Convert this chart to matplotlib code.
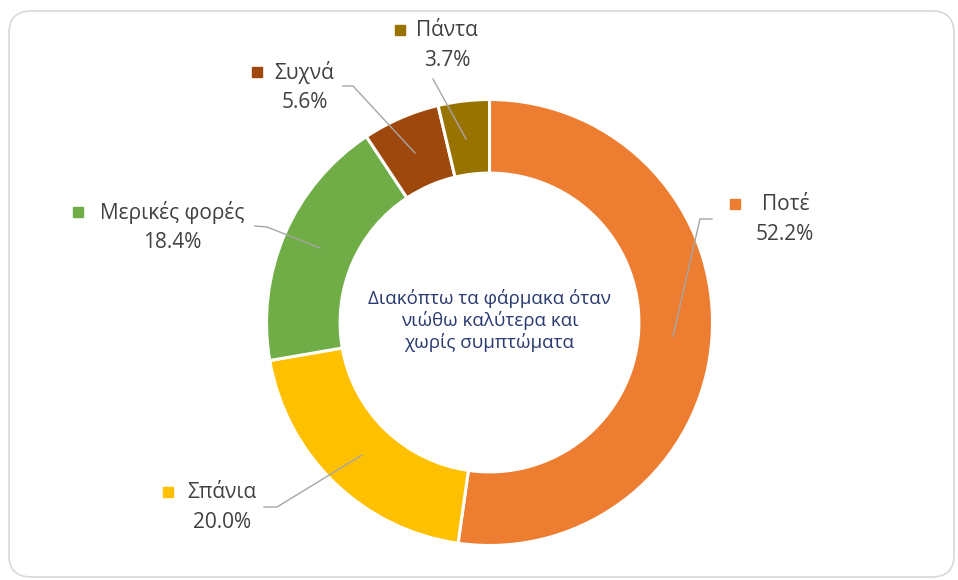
import matplotlib
matplotlib.use("Agg")
import matplotlib.pyplot as plt
from matplotlib.patches import FancyBboxPatch

plt.rcParams['font.family'] = ['Open Sans', 'DejaVu Sans']

categories = ["Ποτέ", "Σπάνια", "Μερικές φορές", "Συχνά", "Πάντα"]
values = [52.2, 20.0, 18.4, 5.6, 3.7]
colors = ["#ED7D31", "#FFC000", "#70AD47", "#9E480E", "#997300"]
center_title = "Διακόπτω τα φάρμακα όταν\nνιώθω καλύτερα και\nχωρίς συμπτώματα"

W, H = 958, 580
fig = plt.figure(figsize=(W / 100, H / 100), dpi=100)
ax = fig.add_axes([0, 0, 1, 1])
ax.set_xlim(0, W)
ax.set_ylim(0, H)
ax.set_aspect('equal')
ax.axis('off')

def Y(y):
    return H - y

# border
border = FancyBboxPatch((9, Y(577)), 945, 566,
                        boxstyle="round,pad=0,rounding_size=22",
                        fc="white", ec="#d9d9d9", lw=1.2, zorder=0)
ax.add_patch(border)

cx, cy, R = 489.5, Y(322.5), 223
ax.pie(values, colors=colors, startangle=90, counterclock=False,
       center=(cx, cy), radius=R, frame=True,
       wedgeprops=dict(width=R * 0.33, edgecolor="white", linewidth=2.2))
ax.set_xlim(0, W)
ax.set_ylim(0, H)
ax.axis('off')

ax.text(cx, Y(321), center_title, ha='center', va='center',
        fontsize=13.5, color="#2A3A70", linespacing=1.2)

# label layout: (marker x, name x, row y, pct x, pct y, leader points)
layout = {
    "Ποτέ": (735, 786, 204, 785, 235, [(712, 219), (700, 219), (673, 336)]),
    "Σπάνια": (168, 222, 492, 222, 522, [(264, 507), (277, 507), (362, 455)]),
    "Μερικές φορές": (78, 172, 212, 172, 242, [(255, 226), (267, 227), (320, 248)]),
    "Συχνά": (257, 304, 72, 305, 102, [(343, 86), (353, 86), (415, 153)]),
    "Πάντα": (400, 447, 30, 447, 61, [(433, 79), (466, 139)]),
}

for cat, val, col in zip(categories, values, colors):
    mx, nx, ny, px, py, pts = layout[cat]
    ax.plot([mx], [Y(ny)], marker='s', ms=6.5, color=col, mec=col, zorder=5)
    ax.text(nx, Y(ny), cat, ha='center', va='center', fontsize=15, color="#404040")
    ax.text(px, Y(py), f"{val:.1f}%", ha='center', va='center', fontsize=15, color="#404040")
    xs = [p[0] for p in pts]
    ys = [Y(p[1]) for p in pts]
    ax.plot(xs, ys, color="#a6a6a6", lw=1.0, zorder=6)

fig.savefig("out.png", dpi=100, facecolor="white")
